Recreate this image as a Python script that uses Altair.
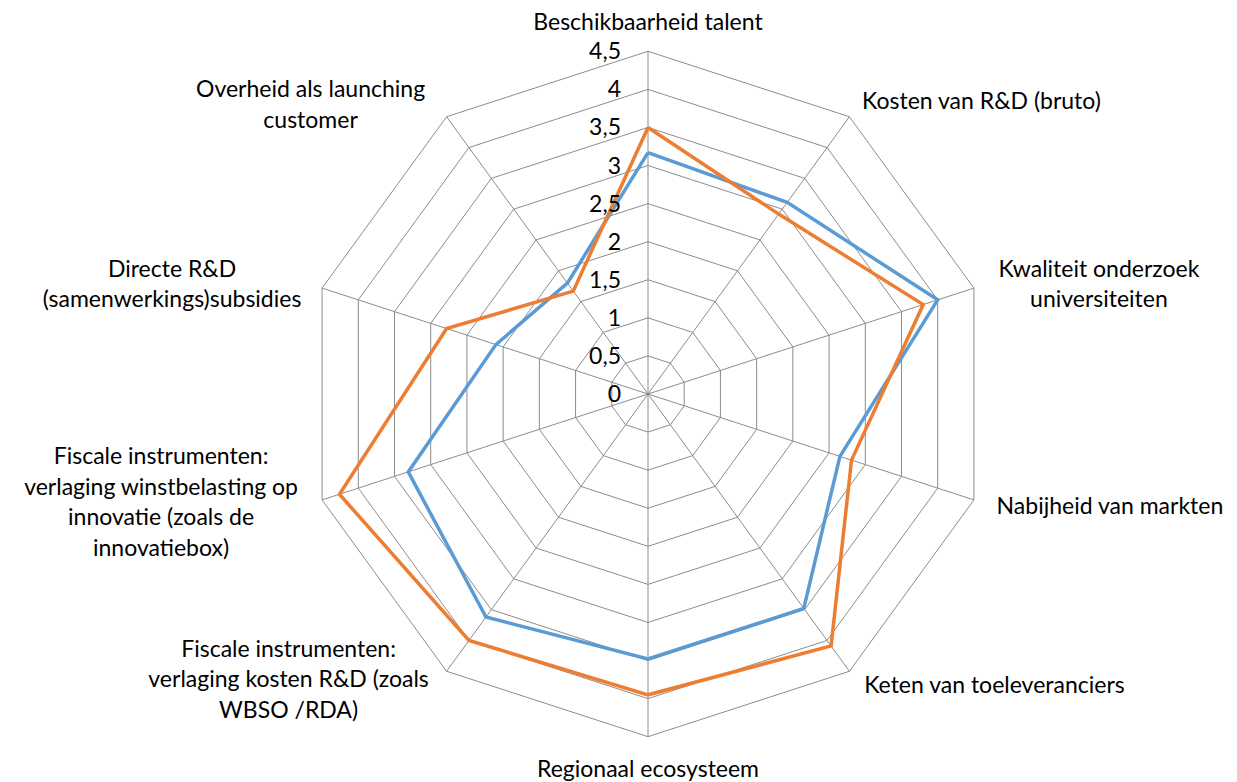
import altair as alt
import pandas as pd

# ---------------- data ----------------
categories = [
    "Beschikbaarheid talent",
    "Kosten van R&D (bruto)",
    "Kwaliteit onderzoek universiteiten",
    "Nabijheid van markten",
    "Keten van toeleveranciers",
    "Regionaal ecosysteem",
    "Fiscale instrumenten: verlaging kosten R&D (zoals WBSO /RDA)",
    "Fiscale instrumenten: verlaging winstbelasting op innovatie (zoals de innovatiebox)",
    "Directe R&D (samenwerkings)subsidies",
    "Overheid als launching customer",
]
label_lines = [
    ["Beschikbaarheid talent"],
    ["Kosten van R&D (bruto)"],
    ["Kwaliteit onderzoek", "universiteiten"],
    ["Nabijheid van markten"],
    ["Keten van toeleveranciers"],
    ["Regionaal ecosysteem"],
    ["Fiscale instrumenten:", "verlaging kosten R&D (zoals", "WBSO /RDA)"],
    ["Fiscale instrumenten:", "verlaging winstbelasting op", "innovatie (zoals de", "innovatiebox)"],
    ["Directe R&D", "(samenwerkings)subsidies"],
    ["Overheid als launching", "customer"],
]
series_names = ["Reeks 1", "Reeks 2"]
series_blue = [3.17, 3.11, 4.00, 2.65, 3.48, 3.48, 3.62, 3.31, 2.10, 1.80]
series_orange = [3.50, 2.92, 3.80, 2.81, 4.09, 3.95, 4.00, 4.26, 2.78, 1.67]
ring_levels = [0.5, 1.0, 1.5, 2.0, 2.5, 3.0, 3.5, 4.0, 4.5]
tick_values = [0, 0.5, 1.0, 1.5, 2.0, 2.5, 3.0, 3.5, 4.0, 4.5]
tick_labels = ["0", "0,5", "1", "1,5", "2", "2,5", "3", "3,5", "4", "4,5"]
max_value = 4.5

# ---------------- layout / style ----------------
N = len(categories)
W, H = 1221, 766
CX, CY = 640, 386          # centre of the radar in plot pixels
PX_PER_UNIT = 342.7 / max_value
XDOM = [-CX / PX_PER_UNIT, (W - CX) / PX_PER_UNIT]
YDOM = [-(H - CY) / PX_PER_UNIT, CY / PX_PER_UNIT]
FONT = "Lato"
FS = 23
LINE_H = 30.5
GRID = "#8C8C8C"
COLORS = ["#5B9BD5", "#ED7D31"]
label_dx = [0, 132, 125, 136, 145, 0, -158, -161, -150, -136]
label_dy = [-28, -15, -3, 7, 15, 33, 9, 3, -3, -11]

xs = alt.Scale(domain=XDOM, nice=False, zero=False)
ys = alt.Scale(domain=YDOM, nice=False, zero=False)
X = alt.X("px:Q", scale=xs, axis=None)
Y = alt.Y("py:Q", scale=ys, axis=None)
ANG = f"datum.idx*2*PI/{N}"
calc = dict(px=f"datum.r*sin({ANG})", py=f"datum.r*cos({ANG})")

# rings
ring_rows = [{"level": lv, "idx": i, "r": lv} for lv in ring_levels for i in range(N + 1)]
rings = alt.Chart(pd.DataFrame(ring_rows)).transform_calculate(**calc).mark_line(
    color=GRID, strokeWidth=1
).encode(x=X, y=Y, detail="level:N", order="idx:Q")

# spokes
spoke_rows = [{"idx": i, "r": max_value} for i in range(N)]
spokes = alt.Chart(pd.DataFrame(spoke_rows)).transform_calculate(
    **calc, zx="0", zy="0"
).mark_rule(color=GRID, strokeWidth=1).encode(
    x=alt.X("zx:Q", scale=xs, axis=None), y=alt.Y("zy:Q", scale=ys, axis=None),
    x2="px:Q", y2="py:Q"
)

# series
rows = []
for name, vals in zip(series_names, [series_blue, series_orange]):
    for i in range(N + 1):
        rows.append({"series": name, "idx": i, "r": vals[i % N], "cat": categories[i % N]})
lines = alt.Chart(pd.DataFrame(rows)).transform_calculate(**calc).mark_line(
    strokeWidth=3.5, strokeJoin="miter"
).encode(
    x=X, y=Y, order="idx:Q",
    color=alt.Color("series:N", scale=alt.Scale(domain=series_names, range=COLORS), legend=None),
)

# tick labels on the vertical axis
tick_df = pd.DataFrame({"idx": [0] * len(tick_values), "r": tick_values, "lab": tick_labels})
ticks = alt.Chart(tick_df).transform_calculate(**calc).mark_text(
    align="right", baseline="middle", dx=-27, dy=1, font=FONT, fontSize=FS, color="#000000"
).encode(x=X, y=Y, text="lab:N")

# category labels (multi-line blocks centred on their anchor)
label_layers = []
for i in range(N):
    n_lines = len(label_lines[i])
    df = pd.DataFrame({"idx": [i], "r": [max_value], "label": ["\n".join(label_lines[i])]})
    label_layers.append(
        alt.Chart(df).transform_calculate(**calc).mark_text(
            align="center", baseline="middle", lineBreak="\n", lineHeight=LINE_H,
            dx=label_dx[i], dy=label_dy[i] - (n_lines - 1) * LINE_H / 2,
            font=FONT, fontSize=FS, color="#000000"
        ).encode(x=X, y=Y, text="label:N")
    )

chart = alt.layer(rings, spokes, lines, ticks, *label_layers).properties(
    width=W, height=H, padding=0, background="white"
).configure_view(strokeWidth=0)

chart.save("out.html", embed_options={"renderer": "svg", "actions": False})
